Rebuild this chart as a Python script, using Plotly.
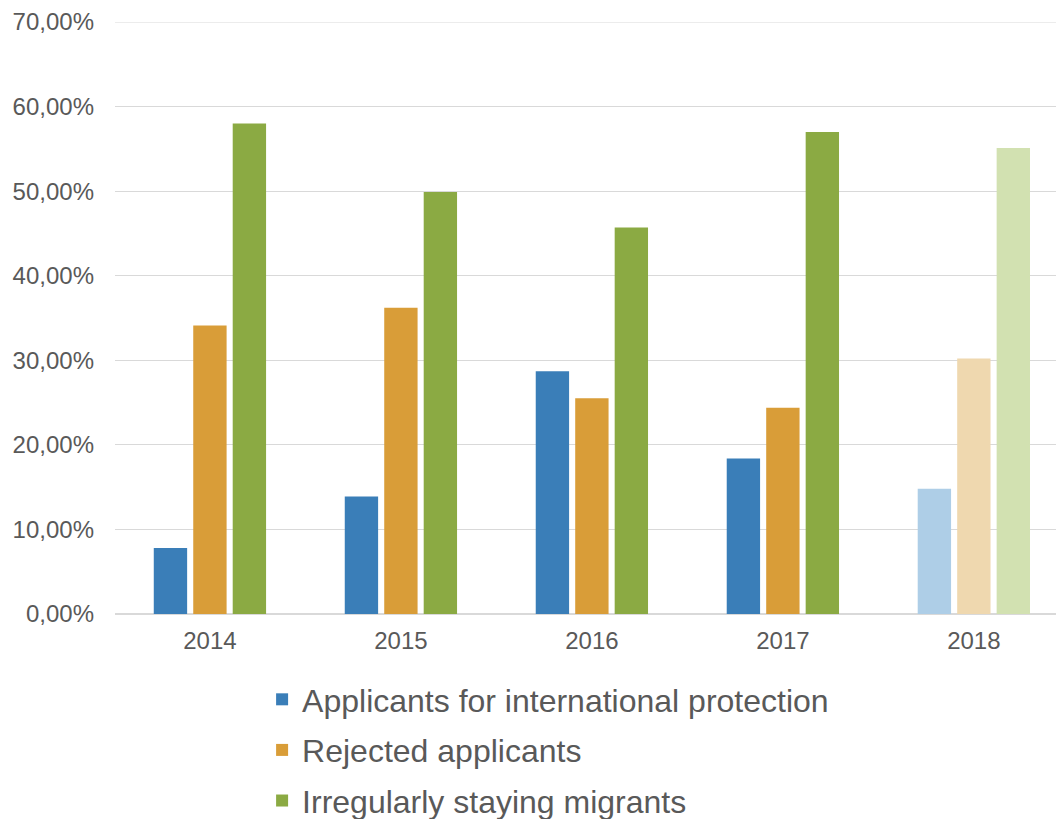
import plotly.graph_objects as go

years = ["2014", "2015", "2016", "2017", "2018"]
applicants = [0.078, 0.139, 0.287, 0.184, 0.148]
rejected = [0.341, 0.362, 0.255, 0.244, 0.302]
irregular = [0.580, 0.499, 0.457, 0.570, 0.551]

series = [
    ("Applicants for international protection", applicants, "#3A7EB8", "#AECEE7"),
    ("Rejected applicants", rejected, "#D99D38", "#EFD8AF"),
    ("Irregularly staying migrants", irregular, "#8BAA43", "#D2E1B1"),
]

fig = go.Figure()
for i, (name, vals, color, light) in enumerate(series):
    # last year drawn in a lighter tint
    colors = [color] * (len(years) - 1) + [light]
    fig.add_trace(go.Bar(
        x=years, y=vals, name=name, legendgroup=str(i),
        marker=dict(color=colors, line=dict(width=0)),
    ))

# top gridline (plotly drops the one sitting on the plot edge)
fig.add_hline(y=0.7, line=dict(color="#D9D9D9", width=1), layer="below")

fig.update_layout(
    width=1056, height=811,
    paper_bgcolor="white", plot_bgcolor="white",
    font=dict(family="Liberation Sans, Arial, sans-serif", color="#595959"),
    margin=dict(l=107, r=0, t=14, b=205, autoexpand=False),
    bargap=0.38, bargroupgap=0.155,
    separators=", ",
    showlegend=True,
    legend=dict(
        orientation="v", x=0.155, xanchor="left", y=-0.098, yanchor="top",
        font=dict(size=32, color="#595959"), tracegroupgap=6,
    ),
    xaxis=dict(
        range=[-0.497, 4.472],
        showgrid=False, showline=True, linecolor="#D9D9D9", linewidth=1,
        tickfont=dict(size=24, color="#595959"), ticks="", ticklabelstandoff=5,
    ),
    yaxis=dict(
        range=[0, 0.7], tickvals=[0, 0.1, 0.2, 0.3, 0.4, 0.5, 0.6, 0.7],
        tickformat=".2%",
        gridcolor="#D9D9D9", gridwidth=1, zeroline=True, zerolinecolor="#D9D9D9",
        tickfont=dict(size=24, color="#595959"), ticklabelstandoff=20,
    ),
)

fig.write_html("out.html")
